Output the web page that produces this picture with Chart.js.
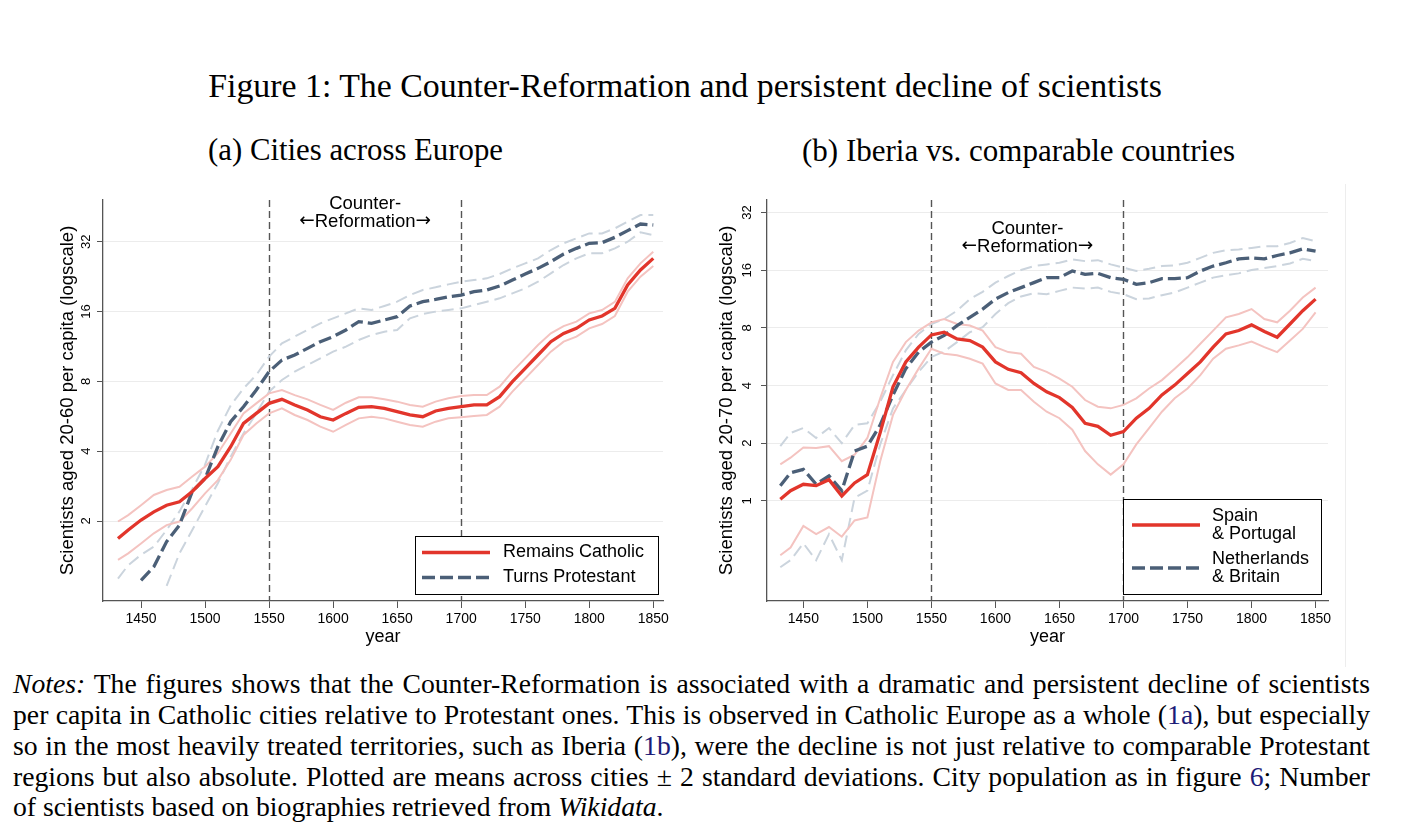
<!DOCTYPE html>
<html>
<head>
<meta charset="utf-8">
<script src="https://cdn.jsdelivr.net/npm/chart.js@4.4.1/dist/chart.umd.min.js"></script>
<style>
  body { margin: 0; background: #fff; width: 1412px; height: 838px; overflow: hidden; position: relative;
         font-family: 'Liberation Serif', 'Times New Roman', serif; color: #000; }
  .txt { position: absolute; white-space: nowrap; line-height: 1; transform: translate(-50%, -50%); }
  canvas { position: absolute; }
  .note { position: absolute; left: 13px; width: 1357px; height: 31px; line-height: 31px; font-size: 22px;
          text-align: justify; text-align-last: justify; white-space: normal; }
  .note.last { text-align: left; text-align-last: left; }
  .ref { color: #1c1c78; }
  #panelLine { position: absolute; left: 1345px; top: 184px; width: 1px; height: 483px; background: #ededed; }
</style>
</head>
<body>

<div class="txt fit" data-w="954" data-cx="685" data-cy="86">Figure 1: The Counter-Reformation and persistent decline of scientists</div>
<div class="txt fit" data-w="295" data-cx="355.5" data-cy="150">(a) Cities across Europe</div>
<div class="txt fit" data-w="433" data-cx="1018.5" data-cy="150">(b) Iberia vs. comparable countries</div>

<canvas id="chartA" width="660" height="480" style="left:30px; top:180px; width:660px; height:480px"></canvas>
<canvas id="chartB" width="660" height="480" style="left:695px; top:180px; width:660px; height:480px"></canvas>
<div id="panelLine"></div>

<div class="note" style="top:668px"><i>Notes:</i> The figures shows that the Counter-Reformation is associated with a dramatic and persistent decline of scientists</div>
<div class="note" style="top:699px">per capita in Catholic cities relative to Protestant ones. This is observed in Catholic Europe as a whole (<span class="ref">1a</span>), but especially</div>
<div class="note" style="top:730px">so in the most heavily treated territories, such as Iberia (<span class="ref">1b</span>), were the decline is not just relative to comparable Protestant</div>
<div class="note" style="top:761px">regions but also absolute. Plotted are means across cities &plusmn; 2 standard deviations. City population as in figure <span class="ref">6</span>; Number</div>
<div class="note last" style="top:791px">of scientists based on biographies retrieved from <i>Wikidata</i>.</div>

<script>
// years (same for both panels)
var years = [1432, 1440, 1450, 1460, 1470, 1480,
  1490, 1500, 1510, 1520, 1530, 1540, 1550,
  1560, 1570, 1580, 1590, 1600, 1610, 1620, 1630, 1640, 1650,
  1660, 1670, 1680, 1690, 1700, 1710, 1720, 1730, 1740, 1750,
  1760, 1770, 1780, 1790, 1800, 1810, 1820, 1830, 1840, 1850];

var xTicks = [1450, 1500, 1550, 1600, 1650, 1700, 1750, 1800, 1850];
var yTicksA = [2, 4, 8, 16, 32];
var yTicksB = [1, 2, 4, 8, 16, 32];
var reformYears = [1550, 1700];
var annotYear = 1625;
var annotLines = ['Counter-', '\u2190Reformation\u2192'];

// (a) cities across Europe, scientists aged 20-60 per capita
var catholicMean = [1.68, 1.83, 2.02, 2.19, 2.34, 2.42,
  2.68, 3.05, 3.43, 4.18, 5.27, 5.82, 6.43,
  6.69, 6.33, 6.02, 5.63, 5.45, 5.82, 6.18, 6.22, 6.12, 5.92,
  5.73, 5.63, 5.96, 6.12, 6.22, 6.33, 6.33, 6.87, 7.97, 9.10,
  10.39, 11.86, 12.88, 13.54, 14.71, 15.30, 16.51, 20.82, 24.16, 27.12];
var catholicHi = [1.99, 2.12, 2.34, 2.59, 2.72, 2.81,
  3.11, 3.43, 3.92, 4.77, 5.82, 6.43, 7.10,
  7.34, 6.98, 6.69, 6.33, 6.02, 6.47, 6.83, 6.83, 6.69, 6.54,
  6.33, 6.22, 6.54, 6.76, 6.92, 6.98, 6.98, 7.59, 8.81, 10.05,
  11.47, 12.88, 13.85, 14.47, 15.71, 16.24, 17.60, 22.24, 25.81, 28.98];
var catholicLo = [1.36, 1.45, 1.60, 1.77, 1.92, 1.99,
  2.27, 2.63, 3.00, 3.67, 4.70, 5.27, 5.82,
  6.12, 5.73, 5.45, 5.10, 4.85, 5.19, 5.54, 5.63, 5.54, 5.36,
  5.19, 5.10, 5.36, 5.54, 5.60, 5.67, 5.73, 6.22, 7.22, 8.24,
  9.41, 10.74, 11.86, 12.47, 13.54, 14.13, 15.30, 19.48, 22.61, 25.14];
var protestantMean = [null, null, 1.11, 1.27, 1.63, 1.92,
  2.68, 3.05, 4.18, 5.36, 6.22, 7.34, 8.81,
  9.88, 10.39, 11.10, 11.86, 12.47, 13.32, 14.47, 14.23, 14.71, 15.20,
  16.90, 17.64, 18.05, 18.53, 18.84, 19.48, 19.81, 20.61, 21.87, 23.22,
  24.56, 26.24, 28.31, 29.95, 31.48, 31.69, 33.41, 35.70, 38.14, 37.76];
var protestantHi = [1.13, 1.29, 1.43, 1.55, 1.83, 2.20,
  2.75, 3.50, 4.90, 6.30, 7.46, 8.52, 10.22,
  11.66, 12.47, 13.32, 14.23, 14.95, 15.71, 16.51, 16.24, 16.90, 17.64,
  18.84, 19.81, 20.34, 20.95, 21.51, 21.87, 22.24, 23.22, 24.56, 25.81,
  27.12, 29.46, 31.48, 33.08, 34.75, 34.75, 36.52, 39.03, 41.70, 41.70];
var protestantLo = [null, null, null, null, 1.05, 1.45,
  1.83, 2.31, 2.91, 3.79, 4.77, 5.82, 7.22,
  8.11, 8.81, 9.41, 10.05, 10.74, 11.29, 12.06, 12.67, 13.10, 13.32,
  14.95, 15.60, 15.98, 16.24, 16.51, 17.07, 17.64, 18.24, 19.16, 20.14,
  21.51, 23.37, 25.39, 27.12, 28.50, 28.50, 29.95, 32.00, 35.11, 34.18];

// (b) Iberia vs. comparable countries, scientists aged 20-70 per capita
var iberiaMean = [1.02, 1.13, 1.22, 1.20, 1.29, 1.06,
  1.24, 1.37, 2.27, 3.94, 5.31, 6.35, 7.35,
  7.59, 7.01, 6.87, 6.35, 5.31, 4.86, 4.67, 4.10, 3.71, 3.46,
  3.07, 2.54, 2.45, 2.20, 2.30, 2.70, 3.04, 3.57, 4.02, 4.62,
  5.31, 6.35, 7.44, 7.75, 8.29, 7.65, 7.15, 8.38, 9.83, 11.30];
var iberiaHi = [1.55, 1.68, 1.90, 1.89, 1.93, 1.61,
  1.74, 2.13, 3.43, 5.31, 6.74, 7.74, 8.55,
  8.90, 8.38, 8.22, 7.74, 6.35, 5.98, 5.86, 5.00, 4.71, 4.35,
  3.94, 3.36, 3.10, 3.04, 3.17, 3.43, 3.86, 4.27, 4.90, 5.63,
  6.61, 7.74, 9.08, 9.45, 10.03, 8.90, 8.55, 9.83, 11.52, 12.98];
var iberiaLo = [0.52, 0.57, 0.74, 0.67, 0.73, 0.65,
  0.79, 0.82, 1.61, 2.81, 3.79, 4.90, 6.22,
  5.86, 5.75, 5.52, 5.20, 4.10, 3.79, 3.79, 3.29, 2.92, 2.70,
  2.35, 1.82, 1.55, 1.37, 1.55, 1.97, 2.40, 2.92, 3.43, 3.86,
  4.53, 5.52, 6.22, 6.48, 6.79, 6.35, 5.98, 6.87, 7.90, 9.64];
var nlbMean = [1.20, 1.40, 1.46, 1.22, 1.35, 1.13,
  1.82, 1.93, 2.49, 3.57, 4.90, 5.98, 6.74,
  7.30, 8.22, 9.08, 10.03, 11.30, 12.23, 12.98, 13.78, 14.63, 14.63,
  15.84, 15.22, 15.40, 14.63, 14.34, 13.51, 13.78, 14.45, 14.45, 14.63,
  15.84, 16.81, 17.49, 18.34, 18.56, 18.34, 19.09, 19.70, 20.66, 20.10];
var nlbHi = [1.93, 2.26, 2.40, 2.13, 2.40, 2.00,
  2.49, 2.54, 3.29, 4.53, 6.10, 7.44, 8.38,
  8.90, 9.83, 11.30, 12.33, 13.78, 14.92, 16.03, 16.81, 17.15, 17.49,
  18.20, 17.84, 18.05, 17.15, 16.48, 15.84, 16.28, 16.81, 16.94, 17.49,
  18.56, 19.70, 20.34, 20.51, 20.91, 21.33, 21.33, 22.19, 23.56, 22.65];
var nlbLo = [0.45, 0.49, 0.60, 0.49, 0.67, 0.49,
  1.04, 1.13, 1.97, 3.04, 3.79, 4.71, 5.63,
  6.03, 6.74, 7.59, 8.06, 9.45, 10.77, 11.66, 12.13, 11.99, 12.48,
  12.98, 12.83, 12.98, 12.33, 11.99, 11.30, 11.39, 11.85, 12.23, 12.98,
  13.78, 14.63, 15.04, 15.40, 16.03, 16.42, 16.81, 17.35, 18.34, 17.84];

var legendA = ['Remains Catholic', 'Turns Protestant'];
var legendB = [['Spain', '& Portugal'], ['Netherlands', '& Britain']];

var RED = '#e2352b', PINK = '#f4c3c0', BLUE = '#4b5f77', LIGHTBLUE = '#cbd4dd';
var SANS = '"Liberation Sans", Arial, Helvetica, sans-serif';
var ARROWS = '"DejaVu Sans", sans-serif';

Chart.defaults.font.family = SANS;
Chart.defaults.color = '#000';

function pts(vals) {
  return years.map(function (yr, i) { return { x: yr, y: vals[i] }; });
}

function serie(vals, color, width, dash) {
  return {
    data: pts(vals), borderColor: color, borderWidth: width, borderDash: dash || [],
    pointRadius: 0, tension: 0, fill: false, spanGaps: false
  };
}

// text with arrows: the arrow glyphs come from DejaVu Sans (wider arrows)
function textoMisto(ctx, txt, cx, cy, size) {
  var parts = txt.split(/([\u2190\u2192])/).filter(function (p) { return p.length; });
  var fonts = parts.map(function (p) { return (/[\u2190\u2192]/.test(p) ? size + 'px ' + ARROWS : size + 'px ' + SANS); });
  var ws = parts.map(function (p, i) { ctx.font = fonts[i]; return ctx.measureText(p).width; });
  var total = ws.reduce(function (s, w) { return s + w; }, 0);
  var px = cx - total / 2;
  ctx.textAlign = 'left';
  parts.forEach(function (p, i) { ctx.font = fonts[i]; ctx.fillText(p, px, cy); px += ws[i]; });
  ctx.textAlign = 'center';
}

// dashed lines, rotated y tick labels, annotation and the boxed legend
var decor = {
  id: 'decor',
  beforeDatasetsDraw: function (chart, args, o) {
    var ctx = chart.ctx, a = chart.chartArea, x = chart.scales.x;
    ctx.save();
    ctx.strokeStyle = '#555';
    ctx.lineWidth = 1.4;
    ctx.setLineDash([7, 4]);
    reformYears.forEach(function (yr) {
      var px = Math.round(x.getPixelForValue(yr)) + 0.5;
      ctx.beginPath(); ctx.moveTo(px, a.top); ctx.lineTo(px, a.bottom); ctx.stroke();
    });
    ctx.restore();
  },
  afterDraw: function (chart, args, o) {
    var ctx = chart.ctx, a = chart.chartArea, x = chart.scales.x, y = chart.scales.y;
    ctx.save();
    ctx.fillStyle = '#000';
    ctx.textAlign = 'center';
    ctx.textBaseline = 'middle';
    ctx.font = '13px ' + SANS;
    o.yTicks.forEach(function (v) {
      ctx.save();
      ctx.translate(a.left - o.tickGap, y.getPixelForValue(v));
      ctx.rotate(-Math.PI / 2);
      ctx.fillText(String(v), 0, 0);
      ctx.restore();
    });

    var ax = x.getPixelForValue(annotYear);
    annotLines.forEach(function (t, i) { textoMisto(ctx, t, ax, a.top + o.annotTop + i * 17.5, 18.5); });

    var L = o.legend;
    ctx.fillStyle = '#fff';
    ctx.fillRect(L.x, L.y, L.w, L.h);
    ctx.strokeStyle = '#000';
    ctx.lineWidth = 1;
    ctx.setLineDash([]);
    ctx.strokeRect(L.x + 0.5, L.y + 0.5, L.w, L.h);
    ctx.font = '18px ' + SANS;
    chart.data.datasets.slice(0, 2).forEach(function (ds, i) {
      var ly = L.rows[i];
      ctx.strokeStyle = ds.borderColor;
      ctx.lineWidth = ds.borderWidth;
      ctx.setLineDash(ds.borderDash);
      ctx.beginPath(); ctx.moveTo(L.x1, ly); ctx.lineTo(L.x2, ly); ctx.stroke();
      ctx.fillStyle = '#000';
      ctx.textAlign = 'left';
      var lines = [].concat(o.labels[i]);
      lines.forEach(function (t, j) { ctx.fillText(t, L.tx, ly + (j - (lines.length - 1) / 2) * 18.5); });
    });
    ctx.restore();
  }
};

function montaPainel(id, series, xMin, xMax, yMin, yMax, yTicks, yTitle, axisW, titlePad, deco) {
  return new Chart(document.getElementById(id), {
    type: 'line',
    data: {
      datasets: [
        serie(series[0], RED, 3.3),
        serie(series[1], BLUE, 3.3, [13, 5]),
        serie(series[2], PINK, 2),
        serie(series[3], PINK, 2),
        serie(series[4], LIGHTBLUE, 2, [12, 6]),
        serie(series[5], LIGHTBLUE, 2, [12, 6])
      ]
    },
    options: {
      responsive: false,
      animation: false,
      layout: { padding: { left: 0, top: 20, right: 27, bottom: 0 } },
      plugins: { legend: { display: false }, tooltip: { enabled: false }, decor: deco },
      scales: {
        x: {
          type: 'linear', min: xMin, max: xMax,
          afterBuildTicks: function (s) { s.ticks = xTicks.map(function (v) { return { value: v }; }); },
          afterFit: function (s) { s.height = 59; },
          ticks: { font: { size: 14 }, padding: 3, maxRotation: 0, callback: function (v) { return String(v); } },
          grid: { drawOnChartArea: false, drawTicks: true, tickLength: 7, tickColor: '#555' },
          border: { color: '#555', width: 1.3 },
          title: { display: true, text: 'year', font: { size: 18 }, padding: { top: 0, bottom: 12 } }
        },
        y: {
          type: 'logarithmic', min: yMin, max: yMax,
          afterBuildTicks: function (s) { s.ticks = yTicks.map(function (v) { return { value: v }; }); },
          afterFit: function (s) { s.width = axisW; },
          ticks: { display: false },
          grid: { color: '#ececec', lineWidth: 1, drawTicks: true, tickLength: 6, tickColor: '#555' },
          border: { color: '#555', width: 1.3 },
          title: { display: true, text: yTitle, font: { size: 18.5 }, padding: { top: titlePad, bottom: 0 } }
        }
      }
    },
    plugins: [decor]
  });
}

montaPainel('chartA',
  [catholicMean, protestantMean, catholicHi, catholicLo, protestantHi, protestantLo],
  1420.3, 1857.6, 0.904, 48.4, yTicksA,
  'Scientists aged 20-60 per capita (logscale)', 73, 27.3,
  { yTicks: yTicksA, tickGap: 17, annotTop: 4, labels: legendA,
    legend: { x: 385, y: 356, w: 243, h: 58, x1: 392, x2: 460, tx: 473, rows: [372.5, 397.5] } });

montaPainel('chartB',
  [iberiaMean, nlbMean, iberiaHi, iberiaLo, nlbHi, nlbLo],
  1421.6, 1859.7, 0.312, 37.2, yTicksB,
  'Scientists aged 20-70 per capita (logscale)', 72, 20.5,
  { yTicks: yTicksB, tickGap: 20, annotTop: 29, labels: legendB,
    legend: { x: 428, y: 319, w: 198, h: 95, x1: 437, x2: 505, tx: 517, rows: [345, 388] } });

// fit the serif texts to the widths in the figure
function ajustaTextos() {
  document.querySelectorAll('.fit').forEach(function (el) {
    el.style.fontSize = '40px';
    var w = el.getBoundingClientRect().width;
    el.style.fontSize = (40 * parseFloat(el.dataset.w) / w) + 'px';
    el.style.left = el.dataset.cx + 'px';
    el.style.top = el.dataset.cy + 'px';
  });
  var notas = Array.prototype.slice.call(document.querySelectorAll('.note'));
  var probe = document.createElement('span');
  probe.style.cssText = 'position:absolute;white-space:nowrap;visibility:hidden;font-size:40px;left:0;top:0';
  document.body.appendChild(probe);
  var larguras = notas.map(function (d) { probe.innerHTML = d.innerHTML; return probe.getBoundingClientRect().width; });
  probe.remove();
  var size = 40 * 663 / larguras[4];
  larguras.slice(0, 4).forEach(function (w) { size = Math.min(size, 40 * 1350 / w); });
  notas.forEach(function (d) { d.style.fontSize = size + 'px'; });
}
ajustaTextos();
document.fonts.ready.then(ajustaTextos);
</script>
</body>
</html>
